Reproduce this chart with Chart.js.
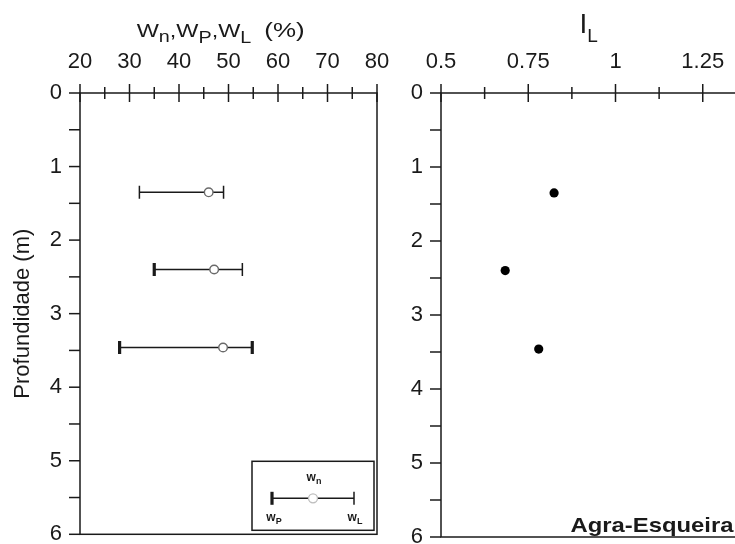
<!DOCTYPE html>
<html><head><meta charset="utf-8">
<script src="https://cdn.jsdelivr.net/npm/chart.js@4.4.0/dist/chart.umd.min.js"></script>
<style>
html,body{margin:0;padding:0;background:#fff;overflow:hidden;width:735px;height:544px;}
#wrap{position:relative;width:735px;height:544px;overflow:hidden;background:#fff;}
#c1{position:absolute;left:0;top:0;}
#c2{position:absolute;left:400px;top:0;}
</style></head><body>
<div id="wrap"><canvas id="c1" width="400" height="544"></canvas><canvas id="c2" width="420" height="544"></canvas></div>
<script>
// ---- data ----
const depth = [1.35, 2.40, 3.46];
const wP = [32.0, 35.0, 28.0];
const wn = [46.0, 47.1, 48.9];
const wL = [49.0, 52.8, 54.8];
const IL = [0.824, 0.684, 0.780];
const wTicks = [20, 30, 40, 50, 60, 70, 80];
const ilTicks = [0.5, 0.75, 1, 1.25, 1.5];
const depthTicks = [0, 1, 2, 3, 4, 5, 6];
const site = 'Agra-Esqueira';
const yTitle = 'Profundidade (m)';

// ---- style ----
const INK = '#1a1a1a';
const FONT = '"Liberation Sans", Arial, Helvetica, sans-serif';

function line(ctx, x1, y1, x2, y2) { ctx.beginPath(); ctx.moveTo(x1, y1); ctx.lineTo(x2, y2); ctx.stroke(); }

// draw a run of text pieces (for subscripts), optionally stretched to a target width
function rich(ctx, pieces, x, y, opts) {
  opts = opts || {};
  let w0 = 0;
  pieces.forEach(p => { ctx.font = p.f; p.w = ctx.measureText(p.t).width; w0 += p.w; });
  const s = opts.width ? opts.width / w0 : 1;
  let start = x;
  if (opts.align === 'center') start = x - w0 * s / 2;
  if (opts.align === 'right') start = x - w0 * s;
  ctx.save();
  ctx.translate(start, y);
  ctx.scale(s, 1);
  ctx.fillStyle = INK; ctx.textBaseline = 'alphabetic'; ctx.textAlign = 'left';
  let cx = 0;
  pieces.forEach(p => { ctx.font = p.f; ctx.fillText(p.t, cx, p.dy || 0); cx += p.w; });
  ctx.restore();
}

const framePlugin = {
  id: 'frame',
  beforeDatasetsDraw(chart) {
    const { ctx, chartArea: a, scales: { x, y } } = chart;
    ctx.save();
    ctx.strokeStyle = INK; ctx.lineWidth = 1.5; ctx.lineCap = 'butt';
    ctx.strokeRect(a.left, a.top, a.right - a.left, a.bottom - a.top);
    const xt = x.ticks.map(t => t.value);
    xt.forEach((v, i) => {
      const px = x.getPixelForValue(v);
      line(ctx, px, a.top - 9, px, a.top + 9);
      if (i < xt.length - 1) {
        const m = x.getPixelForValue((v + xt[i + 1]) / 2);
        line(ctx, m, a.top - 6, m, a.top + 6);
      }
    });
    const yt = y.ticks.map(t => t.value);
    yt.forEach((v, i) => {
      const py = y.getPixelForValue(v);
      line(ctx, a.left - 11, py, a.left, py);
      if (i < yt.length - 1) {
        const m = y.getPixelForValue((v + yt[i + 1]) / 2);
        line(ctx, a.left - 11, m, a.left, m);
      }
    });
    ctx.restore();
  }
};

const leftDecor = {
  id: 'leftDecor',
  afterDraw(chart) {
    const { ctx, chartArea: a } = chart;
    // axis title with subscripts
    const M = '19px ' + FONT, S = '16px ' + FONT;
    rich(ctx, [
      { t: 'W', f: M }, { t: 'n', f: S, dy: 5.5 }, { t: ',', f: M },
      { t: 'W', f: M }, { t: 'P', f: S, dy: 6 }, { t: ',', f: M },
      { t: 'W', f: M }, { t: 'L', f: S, dy: 6 }, { t: '  ', f: M },
      { t: '(%)', f: '21px ' + FONT }
    ], a.left + 56.7, 36.7, { width: 168 });
    // legend box
    const bx = a.right - 125, by = a.bottom - 73, bw = 122, bh = 69;
    ctx.save();
    ctx.strokeStyle = INK; ctx.lineWidth = 1.5;
    ctx.strokeRect(bx, by, bw, bh);
    const yb = by + 37, x1 = bx + 20, x2 = bx + 102, xc = bx + 61;
    line(ctx, x1, yb, x2, yb);
    ctx.lineWidth = 3.2; line(ctx, x1, yb - 6.5, x1, yb + 6.5);
    ctx.lineWidth = 1.5; line(ctx, x2, yb - 6.5, x2, yb + 6.5);
    ctx.beginPath(); ctx.arc(xc, yb, 4.5, 0, Math.PI * 2);
    ctx.fillStyle = '#fff'; ctx.fill();
    ctx.strokeStyle = '#bdbdbd'; ctx.lineWidth = 1.3; ctx.stroke();
    ctx.restore();
    const LB = 'bold 12px ' + FONT, LS = 'bold 9px ' + FONT;
    rich(ctx, [{ t: 'w', f: LB }, { t: 'n', f: LS, dy: 3 }], xc + 1, by + 19.5, { align: 'center' });
    rich(ctx, [{ t: 'w', f: LB }, { t: 'P', f: LS, dy: 3 }], x1 + 2, by + 60, { align: 'center' });
    rich(ctx, [{ t: 'w', f: LB }, { t: 'L', f: LS, dy: 3 }], x2 + 1, by + 60, { align: 'center' });
  }
};

const rightDecor = {
  id: 'rightDecor',
  afterDraw(chart) {
    const { ctx, chartArea: a } = chart;
    rich(ctx, [{ t: 'I', f: '28px ' + FONT }, { t: 'L', f: '19px ' + FONT, dy: 9 }], a.left + 138.5, 33);
    rich(ctx, [{ t: site, f: 'bold 21px ' + FONT }], 333.5, 531.5, { align: 'right', width: 163 });
  }
};

function xScale(min, max, ticks, fmt) {
  return {
    type: 'linear', position: 'top', min: min, max: max,
    afterBuildTicks: s => { s.ticks = ticks.map(v => ({ value: v })); },
    afterFit: s => { s.height = 93; s.paddingLeft = 0; s.paddingRight = 0; },
    grid: { display: false, drawTicks: false }, border: { display: false },
    ticks: { padding: 18, color: INK, font: { family: FONT, size: 22 }, callback: fmt }
  };
}
function yScale(width, title) {
  const o = {
    type: 'linear', reverse: true, min: 0, max: 6,
    afterBuildTicks: s => { s.ticks = depthTicks.map(v => ({ value: v })); },
    afterFit: s => { s.width = width; s.paddingTop = 0; s.paddingBottom = 0; },
    grid: { display: false, drawTicks: false }, border: { display: false },
    ticks: { padding: 18, color: INK, font: { family: FONT, size: 22 }, callback: v => String(v) }
  };
  if (title) o.title = { display: true, text: title, color: INK, font: { family: FONT, size: 22 }, padding: { top: 10, bottom: 0 } };
  return o;
}

const common = {
  responsive: false, animation: false, events: [],
  plugins: { legend: { display: false }, tooltip: { enabled: false }, title: { display: false } }
};

// ---- left chart: wP / wn / wL ----
const capP = [1.5, 3.2, 3.2], capL = [1.5, 1.5, 3.2];
const leftSets = [{
  label: 'wn',
  data: depth.map((d, i) => ({ x: wn[i], y: d })),
  pointStyle: 'circle', pointRadius: 4.3, pointBorderWidth: 1.4,
  pointBorderColor: '#6a6a6a', pointBackgroundColor: '#fff', showLine: false
}];
depth.forEach((d, i) => {
  leftSets.push({
    label: 'range' + i,
    data: [{ x: wP[i], y: d }, { x: wL[i], y: d }],
    showLine: true, borderColor: INK, borderWidth: 1.6,
    pointStyle: 'line', rotation: 90, pointRadius: 6.5,
    pointBorderColor: INK, pointBorderWidth: [capP[i], capL[i]]
  });
});

new Chart(document.getElementById('c1'), {
  type: 'scatter',
  data: { datasets: leftSets },
  options: Object.assign({}, common, {
    layout: { padding: { left: 0, top: 0, right: 23, bottom: 7 } },
    scales: { x: xScale(20, 80, wTicks, v => String(v)), y: yScale(80, yTitle) }
  }),
  plugins: [framePlugin, leftDecor]
});

// ---- right chart: IL ----
new Chart(document.getElementById('c2'), {
  type: 'scatter',
  data: { datasets: [{
    label: 'IL',
    data: depth.map((d, i) => ({ x: IL[i], y: d })),
    pointStyle: 'circle', pointRadius: 4.6, pointBorderWidth: 0,
    pointBackgroundColor: '#000', showLine: false
  }] },
  options: Object.assign({}, common, {
    layout: { padding: { left: 0, top: 0, right: 30, bottom: 7 } },
    scales: { x: xScale(0.5, 1.5, ilTicks, v => String(+v.toFixed(2))), y: yScale(41, null) }
  }),
  plugins: [framePlugin, rightDecor]
});
</script>
</body></html>
